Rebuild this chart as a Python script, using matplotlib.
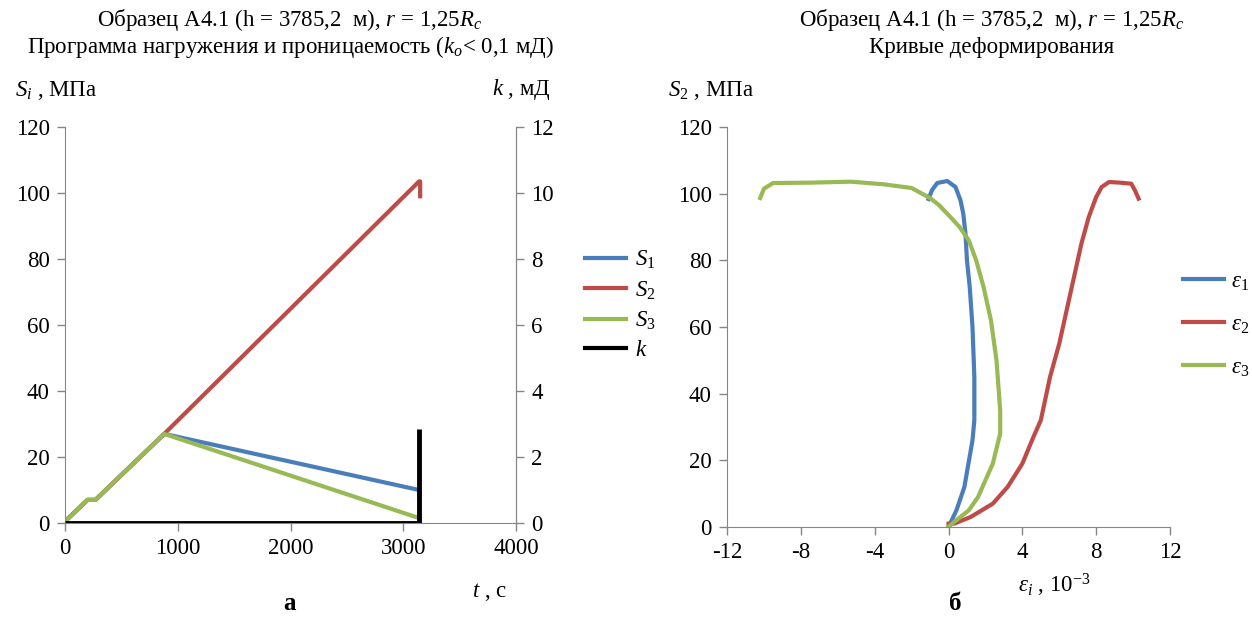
import matplotlib
matplotlib.use("Agg")
import matplotlib.pyplot as plt
from matplotlib.lines import Line2D

plt.rcParams['font.family'] = ['Liberation Serif', 'DejaVu Serif']
plt.rcParams['mathtext.fontset'] = 'custom'
plt.rcParams['mathtext.rm'] = 'Liberation Serif'
plt.rcParams['mathtext.it'] = 'Liberation Serif:italic'
plt.rcParams['axes.unicode_minus'] = False
plt.rcParams['font.size'] = 16.5

# --- panel a: loading program and permeability ---
t_sec = [0, 200, 270, 880, 3140]
s1_load = [0.5, 7, 7, 27, 10]
t_s2 = [0, 200, 270, 880, 3140, 3150, 3150]
s2_load = [0.5, 7, 7, 27, 103.5, 103.5, 99]
s3_load = [0.5, 7, 7, 27, 1.5]
t_k = [0, 3140, 3140]
k_perm = [0, 0, 2.85]

# --- panel b: deformation curves (strain 1e-3, stress MPa) ---
eps1 = [0, 0.43, 0.86, 1.3, 1.4, 1.4, 1.3, 1.15, 1.0, 0.92, 0.8, 0.65, 0.38, -0.07, -0.61, -0.9, -1.08]
s_eps1 = [0, 5, 12, 26, 32, 45, 60, 72, 80, 88, 94, 98, 102, 103.8, 103.2, 101, 98.4]
eps2 = [0, 0.3, 1.2, 2.4, 3.2, 4.0, 4.6, 5.0, 5.5, 6.0, 6.4, 6.8, 7.2, 7.6, 8.0, 8.3, 8.7, 9.3, 9.9, 10.1, 10.3]
s_eps2 = [1, 1, 3, 7, 12, 19, 27, 32, 45, 55, 65, 75, 85, 93, 99, 102, 103.5, 103.3, 103, 101, 98.5]
eps3 = [0, 0.3, 1.1, 1.6, 2.4, 2.8, 2.8, 2.6, 2.3, 1.9, 1.5, 1.1, 0.6, 0.1, -0.5, -1.0, -2.0, -3.5, -5.3, -7.5, -9.5, -10.0, -10.2]
s_eps3 = [0, 1.5, 5, 9, 19, 28, 35, 50, 62, 72, 80, 86, 90, 93, 96.5, 98.7, 101.7, 102.8, 103.6, 103.3, 103.2, 101.5, 98.7]

blue = '#4a7ebb'
red = '#be4b48'
green = '#98b954'
spine = '#868686'
lw = 3

fig = plt.figure(figsize=(12.52, 6.18), dpi=100)
W, H = 1252, 618

def box(x0, x1, y0, y1):
    return [x0 / W, 1 - y1 / H, (x1 - x0) / W, (y1 - y0) / H]

def style(ax, right=False):
    ax.spines['top'].set_visible(False)
    ax.spines['right'].set_visible(right)
    for s in ax.spines.values():
        s.set_color(spine)
    ax.tick_params(direction='out', length=6, color=spine, width=1, pad=5)

ax1 = fig.add_axes(box(65, 516, 127, 523))
ax1.plot(t_sec, s1_load, color=blue, lw=lw)
ax1.plot(t_s2, s2_load, color=red, lw=lw)
ax1.plot(t_sec, s3_load, color=green, lw=lw)
ax1.set_xlim(0, 4000)
ax1.set_ylim(0, 120)
ax1.set_xticks(range(0, 4001, 1000))
ax1.set_yticks(range(0, 121, 20))
style(ax1, right=True)

ax1k = ax1.twinx()
ax1k.plot(t_k, k_perm, color='black', lw=lw + 0.5, solid_capstyle='butt')
ax1k.set_ylim(0, 12)
ax1k.set_yticks(range(0, 13, 2))
style(ax1k, right=True)
ax1k.spines['left'].set_visible(False)
ax1k.spines['bottom'].set_visible(False)

ax2 = fig.add_axes(box(727, 1170, 127, 527))
ax2.plot(eps1, s_eps1, color=blue, lw=lw)
ax2.plot(eps2, s_eps2, color=red, lw=lw)
ax2.plot(eps3, s_eps3, color=green, lw=lw)
ax2.set_xlim(-12, 12)
ax2.set_ylim(0, 120)
ax2.set_xticks(range(-12, 13, 4))
ax2.set_yticks(range(0, 121, 20))
style(ax2)

# legends
h1 = [Line2D([], [], color=c, lw=lw) for c in (blue, red, green)] + [Line2D([], [], color='black', lw=lw)]
fig.legend(h1, [r'$S_\mathit{1}$', r'$S_\mathit{2}$', r'$S_\mathit{3}$', '$k$'], loc='center left',
           bbox_to_anchor=(585 / W, 1 - 305 / H), frameon=False, borderpad=0, borderaxespad=0,
           handlelength=1.8, labelspacing=0.35, handletextpad=0.4)
h2 = [Line2D([], [], color=c, lw=lw) for c in (blue, red, green)]
fig.legend(h2, [r'$\varepsilon_\mathit{1}$', r'$\varepsilon_\mathit{2}$', r'$\varepsilon_\mathit{3}$'], loc='center left',
           bbox_to_anchor=(1183 / W, 1 - 325 / H), frameon=False, borderpad=0, borderaxespad=0,
           handlelength=1.8, labelspacing=0.95, handletextpad=0.3)

# titles and axis labels
fig.text(290 / W, 1 - 20 / H, 'Образец А4.1 (h = 3785,2  м), $r$ = 1,25$R_c$', ha='center', va='center')
fig.text(290 / W, 1 - 47 / H, 'Программа нагружения и проницаемость ($k_o$< 0,1 мД)', ha='center', va='center')
fig.text(992 / W, 1 - 20 / H, 'Образец А4.1 (h = 3785,2  м), $r$ = 1,25$R_c$', ha='center', va='center')
fig.text(992 / W, 1 - 47 / H, 'Кривые деформирования', ha='center', va='center')

fig.text(15 / W, 1 - 90 / H, '$S_i$ , МПа', ha='left', va='center')
fig.text(492 / W, 1 - 90 / H, '$k$ , мД', ha='left', va='center')
fig.text(668 / W, 1 - 90 / H, r'$S_\mathit{2}$ , МПа', ha='left', va='center')
fig.text(472 / W, 1 - 592 / H, '$t$ , с', ha='left', va='center')
fig.text(1018 / W, 1 - 585 / H, r'$\varepsilon_i$ , 10$^{-3}$', ha='left', va='center')
fig.text(290 / W, 1 - 603 / H, 'а', ha='center', va='center', fontweight='bold', fontsize=18)
fig.text(955 / W, 1 - 603 / H, 'б', ha='center', va='center', fontweight='bold', fontsize=18)

fig.savefig('out.png', dpi=100)
